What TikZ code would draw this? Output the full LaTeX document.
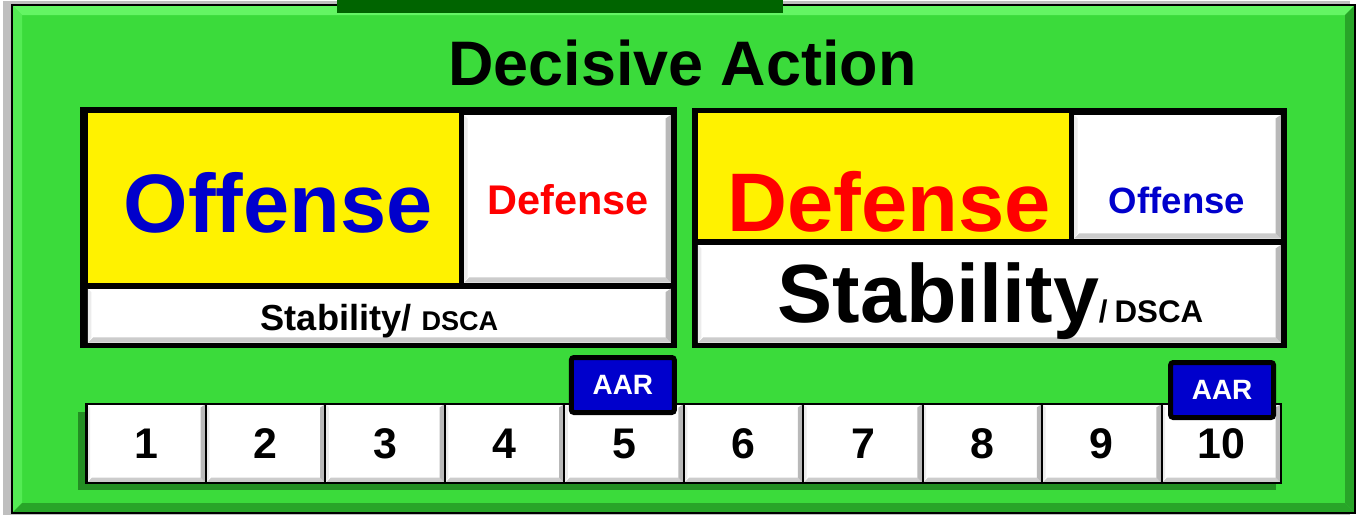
\documentclass[tikz,border=0pt]{standalone}
\usepackage{fontspec}
\setmainfont{Liberation Sans}
\usepackage{tikz}

\definecolor{frameGreen}{RGB}{59,219,59}
\definecolor{lightGreen}{RGB}{100,245,100}
\definecolor{darkEdge}{RGB}{40,165,40}
\definecolor{barGreen}{RGB}{0,100,0}
\definecolor{shadowGreen}{RGB}{25,110,25}
\definecolor{aarBlue}{RGB}{0,0,204}
\definecolor{wordBlue}{RGB}{0,0,204}

\tikzset{
  bevel/.style={path picture={
    \fill[gray!40] (path picture bounding box.south west) -- (path picture bounding box.south east)
      -- ([shift={(-3pt,3pt)}]path picture bounding box.south east) -- ([shift={(3pt,3pt)}]path picture bounding box.south west) -- cycle;
    \fill[gray!55] (path picture bounding box.south east) -- (path picture bounding box.north east)
      -- ([shift={(-3pt,-2pt)}]path picture bounding box.north east) -- ([shift={(-3pt,3pt)}]path picture bounding box.south east) -- cycle;
    \fill[gray!15] (path picture bounding box.north west) -- (path picture bounding box.south west)
      -- ([shift={(2pt,3pt)}]path picture bounding box.south west) -- ([shift={(2pt,-2pt)}]path picture bounding box.north west) -- cycle;
  }},
  panel/.style={fill=black, inner sep=0pt},
  yellowbox/.style={fill=yellow, inner sep=0pt},
  whitebox/.style={fill=white, inner sep=0pt, bevel},
  keybox/.style={draw=black, line width=1.2pt, fill=white, inner sep=0pt, bevel,
    minimum width=119.45*\px, minimum height=79*\px, font=\fontsize{24.4}{26}\selectfont\bfseries},
  aarbox/.style={draw=black, line width=5*\px, fill=aarBlue, rounded corners=1.5pt, inner sep=0pt,
    minimum width=103*\px, minimum height=55*\px, text=white, font=\fontsize{15.9}{17}\selectfont\bfseries},
  word/.style={inner sep=0pt, anchor=base}
}

\begin{document}
\begin{tikzpicture}[x=0.02cm,y=-0.02cm]
  % One unit is one pixel of the reference
  \def\px{0.02cm}
  \useasboundingbox (0,0) rectangle (1360,515);

  % Draw the outer frame
  \fill[black!25] (3,1) rectangle (1350,515);
  \fill[frameGreen, draw=black, line width=1.2pt] (12,5) rectangle (1355,513);
  \fill[lightGreen] (12,5) -- (1355,5) -- (1345,15) -- (22,15) -- cycle;
  \fill[lightGreen!60!frameGreen] (12,5) -- (22,15) -- (22,503) -- (12,513) -- cycle;
  \fill[darkEdge] (1355,5) -- (1355,513) -- (1345,503) -- (1345,15) -- cycle;
  \fill[darkEdge] (12,513) -- (1355,513) -- (1345,503) -- (22,503) -- cycle;
  \draw[black, line width=1.2pt] (12,5) rectangle (1355,513);
  \fill[barGreen] (337,0) rectangle (783,12.7);

  % Title
  \node[word, font=\fontsize{35.8}{38}\selectfont\bfseries] (title) at (682.5,85) {Decisive Action};

  % Left panel
  \node[panel, minimum width=596.7*\px, minimum height=241*\px] (leftPanel) at (378.35,227.8) {};
  \node[yellowbox, minimum width=370.7*\px, minimum height=170*\px] (leftMain) at (273.15,198.3) {};
  \node[whitebox, minimum width=206.8*\px, minimum height=167.7*\px] (leftSide) at (567.4,198.85) {};
  \node[whitebox, minimum width=583*\px, minimum height=54*\px] (leftStab) at (379.3,315.7) {};
  \node[word, text=wordBlue, font=\fontsize{47.2}{50}\selectfont\bfseries] (leftOffense) at (278,232) {Offense};
  \node[word, text=red, font=\fontsize{23.6}{25}\selectfont\bfseries] (leftDefense) at (568,214.3) {Defense};
  \node[word, font=\fontsize{20.6}{22}\selectfont\bfseries] (leftStabText) at (379.5,330)
    {Stability/ {\fontsize{15.4}{17}\selectfont DSCA}};

  % Right panel
  \node[panel, minimum width=595*\px, minimum height=240.3*\px] (rightPanel) at (989,227.85) {};
  \node[yellowbox, minimum width=370.7*\px, minimum height=126*\px] (rightMain) at (883.15,176.3) {};
  \node[whitebox, minimum width=206.8*\px, minimum height=123.7*\px] (rightSide) at (1177.4,176.85) {};
  \node[whitebox, minimum width=583*\px, minimum height=97.7*\px] (rightStab) at (989.3,293.85) {};
  \node[word, text=red, font=\fontsize{47.3}{50}\selectfont\bfseries] (rightDefense) at (889,231) {Defense};
  \node[word, text=wordBlue, font=\fontsize{20.8}{22}\selectfont\bfseries] (rightOffense) at (1177,213.3) {Offense};
  \node[word, font=\fontsize{47}{50}\selectfont\bfseries] (rightStabText) at (990.5,322)
    {Stability{\fontsize{17.8}{19}\selectfont/\hspace{4pt}DSCA}};

  % Shadow under the row of days
  \fill[shadowGreen, opacity=0.7] (78,412) rectangle (1276,490);

  % Row of days
  \foreach \i in {1,...,10} {
    \node[keybox] (day\i) at ({86.5+119.45*(\i-0.5)},443.5) {\i};
  }

  % After action reviews
  \node[aarbox] (aarOne) at (622.85,385) {AAR};
  \node[aarbox] (aarTwo) at (1222.1,390) {AAR};

\end{tikzpicture}
\end{document}
